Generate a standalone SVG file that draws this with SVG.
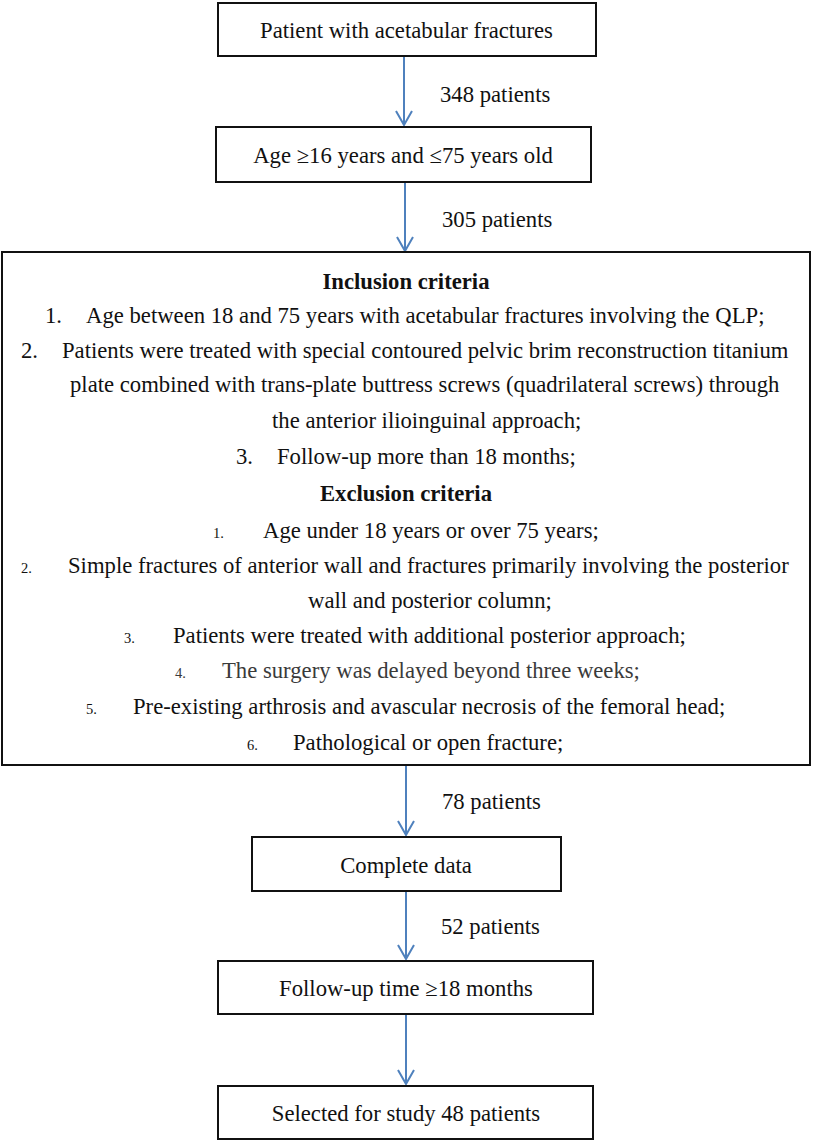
<svg xmlns="http://www.w3.org/2000/svg" width="813" height="1142" viewBox="0 0 813 1142">
<style>
.box{fill:#fff;stroke:#111;stroke-width:2}
text{font-family:"Liberation Serif","Times New Roman",Times,serif;fill:#111;font-size:22.7px}
.m{text-anchor:middle}
.h{font-weight:bold}
.n{font-size:14.5px}
.g{fill:#3a3a3a}
.arr{stroke:#4F81BD;stroke-width:2;fill:none}
</style>
<defs>
<marker id="ah" viewBox="0 0 20 20" refX="10" refY="16" markerWidth="20" markerHeight="20" markerUnits="userSpaceOnUse" orient="0">
<path d="M2,2 L10,16 L18,2" fill="none" stroke="#4F81BD" stroke-width="2"/>
</marker>
</defs>
<rect width="813" height="1142" fill="#fff"/>
<g id="connectors">
<line class="arr" x1="404" y1="57" x2="404" y2="125" marker-end="url(#ah)"/>
<line class="arr" x1="405" y1="183" x2="405" y2="251" marker-end="url(#ah)"/>
<line class="arr" x1="406" y1="766" x2="406" y2="835" marker-end="url(#ah)"/>
<line class="arr" x1="406" y1="892" x2="406" y2="959" marker-end="url(#ah)"/>
<line class="arr" x1="406" y1="1015" x2="406" y2="1084" marker-end="url(#ah)"/>
<text x="440" y="102">348 patients</text>
<text x="442" y="227">305 patients</text>
<text x="442" y="809">78 patients</text>
<text x="441" y="934">52 patients</text>
</g>
<g id="node1">
<rect class="box" x="218" y="3" width="378" height="53"/>
<text class="m" x="406.5" y="38">Patient with acetabular fractures</text>
</g>
<g id="node2">
<rect class="box" x="216" y="127" width="375" height="55"/>
<text class="m" x="403" y="163">Age ≥16 years and ≤75 years old</text>
</g>
<g id="node3">
<rect class="box" x="2" y="252" width="808" height="513"/>
<text class="h m" x="406" y="289">Inclusion criteria</text>
<text x="45" y="323">1.</text>
<text x="86" y="323">Age between 18 and 75 years with acetabular fractures involving the QLP;</text>
<text x="21" y="358">2.</text>
<text x="62" y="358">Patients were treated with special contoured pelvic brim reconstruction titanium</text>
<text x="70" y="392">plate combined with trans-plate buttress screws (quadrilateral screws) through</text>
<text x="272" y="428">the anterior ilioinguinal approach;</text>
<text x="236" y="464">3.</text>
<text x="277" y="464">Follow-up more than 18 months;</text>
<text class="h m" x="406" y="501">Exclusion criteria</text>
<text class="n" x="213" y="538">1.</text>
<text x="263" y="538">Age under 18 years or over 75 years;</text>
<text class="n" x="21" y="573">2.</text>
<text x="68" y="573">Simple fractures of anterior wall and fractures primarily involving the posterior</text>
<text x="308" y="608">wall and posterior column;</text>
<text class="n" x="124" y="643">3.</text>
<text x="173" y="643">Patients were treated with additional posterior approach;</text>
<text class="n g" x="175" y="678">4.</text>
<text class="g" x="222" y="678">The surgery was delayed beyond three weeks;</text>
<text class="n" x="86" y="714">5.</text>
<text x="133" y="714">Pre-existing arthrosis and avascular necrosis of the femoral head;</text>
<text class="n" x="247" y="750">6.</text>
<text x="293" y="750">Pathological or open fracture;</text>
</g>
<g id="node4">
<rect class="box" x="252" y="837" width="309" height="54"/>
<text class="m" x="406" y="873">Complete data</text>
</g>
<g id="node5">
<rect class="box" x="218" y="961" width="375" height="53"/>
<text class="m" x="406" y="996">Follow-up time ≥18 months</text>
</g>
<g id="node6">
<rect class="box" x="218" y="1086" width="375" height="53"/>
<text class="m" x="406" y="1121">Selected for study 48 patients</text>
</g>
</svg>
